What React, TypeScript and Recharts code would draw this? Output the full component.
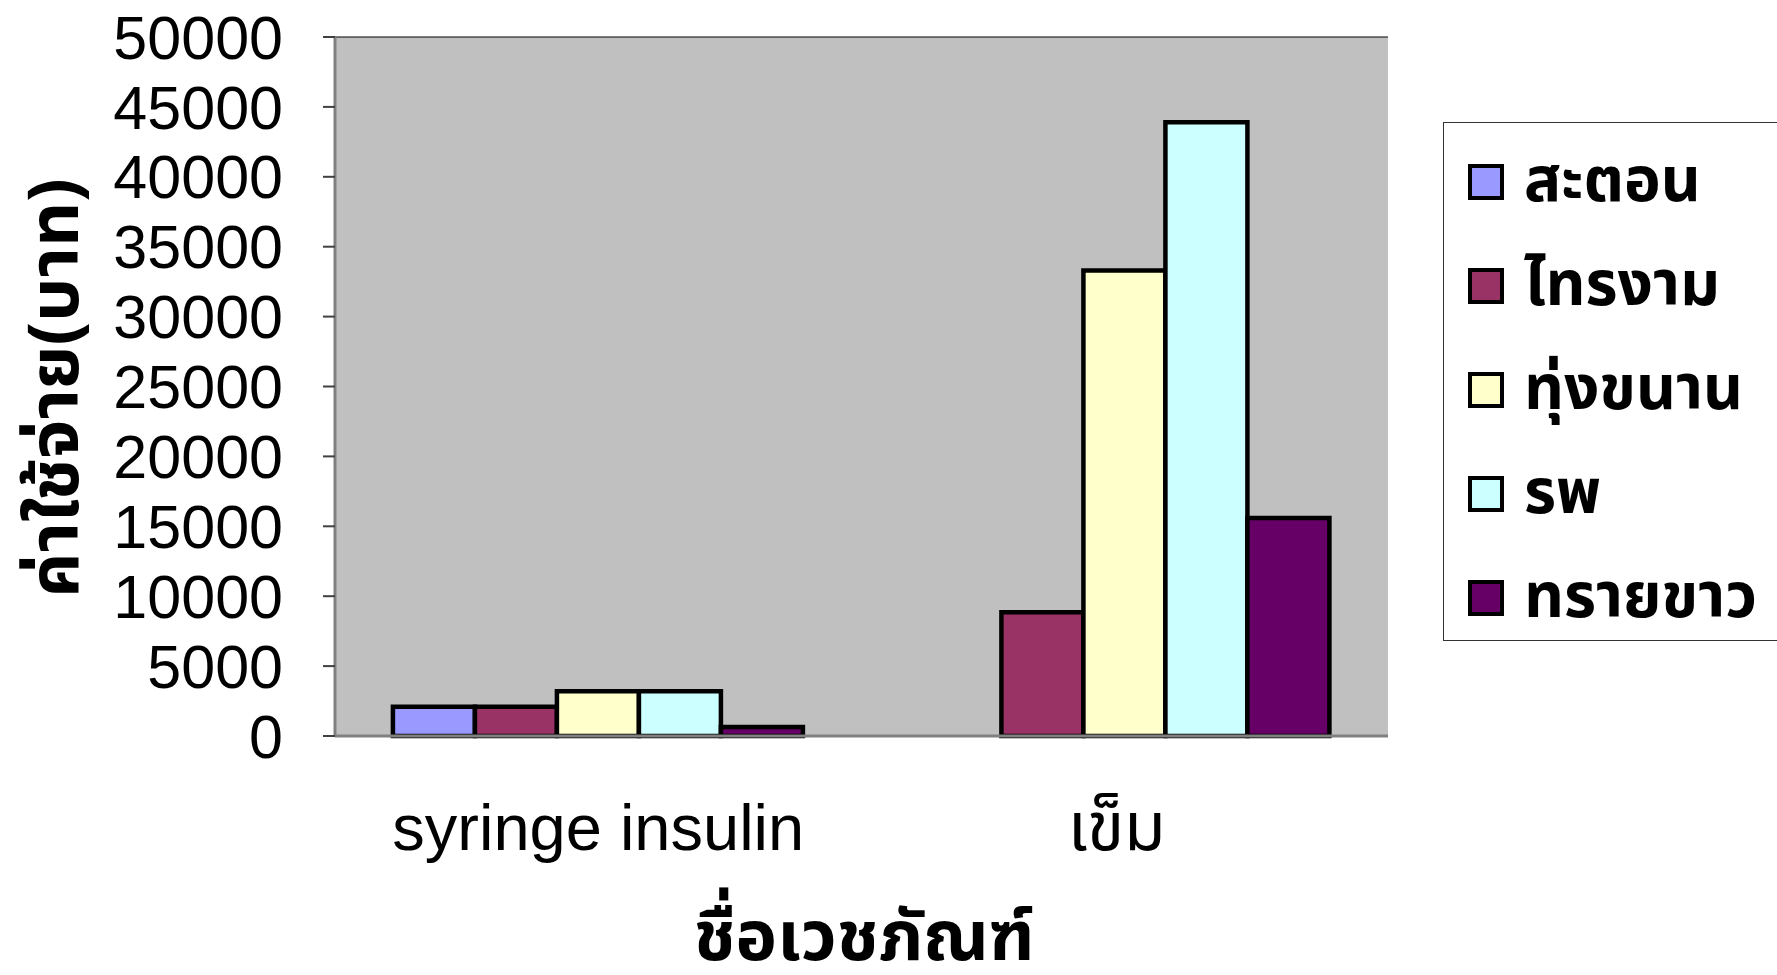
import React from 'react';
import { BarChart, Bar, XAxis, YAxis, CartesianGrid, Legend } from 'recharts';

const categories = ['syringe insulin', 'เข็ม'];
const seriesNames = ['สะตอน', 'ไทรงาม', 'ทุ่งขนาน', 'รพ', 'ทรายขาว'];
const satorn = [2100, 0];
const saingam = [2100, 8850];
const tungkhanan = [3200, 33300];
const rongphayaban = [3200, 43900];
const saikhao = [650, 15600];
const yTicks = [0, 5000, 10000, 15000, 20000, 25000, 30000, 35000, 40000, 45000, 50000];
const colors = ['#9999FF', '#993366', '#FFFFCC', '#CCFFFF', '#660066'];
const yTitle = 'ค่าใช้จ่าย(บาท)';
const xTitle = 'ชื่อเวชภัณฑ์';

const seriesValues = [satorn, saingam, tungkhanan, rongphayaban, saikhao];
const data = categories.map((c, i) => {
  const row: any = { name: c };
  seriesNames.forEach((s, j) => { row[s] = seriesValues[j][i]; });
  return row;
});

const LATIN = "'Liberation Sans', Arial, sans-serif";
const THAI = "'Noto Sans Thai', 'Noto Sans Thai Looped', Tahoma, Loma, Garuda, 'DejaVu Sans', sans-serif";

const CatTick = (props: any) => {
  const { x, y, payload } = props;
  const thai = payload.value === 'เข็ม';
  return (
    <text x={thai ? x - 8 : x} y={y + 112} textAnchor="middle" fontSize={thai ? 68 : 65} fontFamily={thai ? THAI : LATIN} fill="#000">
      {payload.value}
    </text>
  );
};

const YTitle = (props: any) => {
  return (
    <text transform="translate(78, 388) rotate(-90)" textAnchor="middle" fontSize={70} fontWeight="bold" fontFamily={THAI} fill="#000">
      {yTitle}
    </text>
  );
};

const XTitle = (props: any) => {
  return (
    <text x={864} y={960} textAnchor="middle" fontSize={70} fontWeight="bold" fontFamily={THAI} fill="#000">
      {xTitle}
    </text>
  );
};

const LegendBox = () => (
  <div style={{ width: 350, height: 519, border: '1px solid #333', background: '#fff', boxSizing: 'border-box', position: 'relative' }}>
    {seriesNames.map((s, i) => (
      <div key={s} style={{ position: 'absolute', left: 24, top: 59 + i * 104 - 36, height: 72, display: 'flex', alignItems: 'center' }}>
        <div style={{ width: 36, height: 36, background: colors[i], border: '4px solid #000', boxSizing: 'border-box' }} />
        <span style={{ marginLeft: 20, fontFamily: THAI, fontWeight: 'bold', fontSize: 62, color: '#000', whiteSpace: 'nowrap', lineHeight: '72px' }}>{s}</span>
      </div>
    ))}
  </div>
);

export default function App() {
  return (
    <div style={{ position: 'absolute', left: 0, top: 0, width: 1777, height: 975, background: '#fff', overflow: 'hidden' }}>
      <BarChart width={1777} height={975} data={data} margin={{ top: 37, right: 389, bottom: 0, left: 0 }} barCategoryGap="11%" barGap={0}>
        <CartesianGrid vertical={false} stroke="#000" strokeWidth={1} fill="#C0C0C0" fillOpacity={1} />
        <XAxis xAxisId="edges" type="number" domain={[0, 2]} ticks={[0, 1, 2]} tick={false} tickSize={21} tickLine={{ stroke: '#808080', strokeWidth: 2 }} axisLine={false} height={0} allowDataOverflow />
        <XAxis xAxisId="cat" dataKey="name" height={239} tickLine={false} tickSize={0} axisLine={{ stroke: '#808080', strokeWidth: 3 }} tick={<CatTick />} interval={0} label={<XTitle />} />
        <XAxis xAxisId="top" orientation="top" dataKey="name" height={0} tick={false} tickLine={false} axisLine={{ stroke: '#808080', strokeWidth: 4 }} />
        <YAxis yAxisId="left" domain={[0, 50000]} ticks={yTicks} width={335} tickSize={12} tickMargin={40} axisLine={{ stroke: '#808080', strokeWidth: 3 }} tickLine={{ stroke: '#404040', strokeWidth: 2 }} tick={{ fontSize: 61, fontFamily: LATIN, fill: '#000' }} label={<YTitle />} interval={0} />
        <YAxis yAxisId="right" orientation="right" domain={[0, 50000]} width={0} tick={false} tickLine={false} axisLine={{ stroke: '#808080', strokeWidth: 4 }} />
        <Legend layout="vertical" align="center" verticalAlign="middle" wrapperStyle={{ left: 1443, top: 122, width: 350, height: 519 }} content={<LegendBox />} />
        {seriesNames.map((s, i) => (
          <Bar key={s} xAxisId="cat" yAxisId="left" dataKey={s} fill={colors[i]} stroke="#000" strokeWidth={4.5} isAnimationActive={false} />
        ))}
      </BarChart>
    </div>
  );
}
